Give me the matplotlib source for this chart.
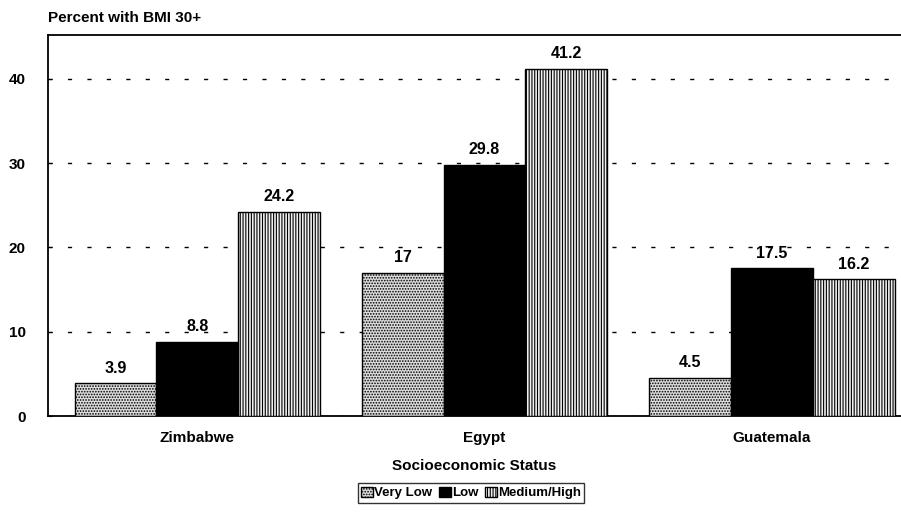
import matplotlib
matplotlib.use("Agg")
import matplotlib.pyplot as plt
import numpy as np

countries = ["Zimbabwe", "Egypt", "Guatemala"]
series_names = ["Very Low", "Low", "Medium/High"]
very_low = [3.9, 17, 4.5]
low = [8.8, 29.8, 17.5]
med_high = [24.2, 41.2, 16.2]
value_labels = [["3.9", "17", "4.5"], ["8.8", "29.8", "17.5"], ["24.2", "41.2", "16.2"]]
yticks = [0, 10, 20, 30, 40]

plt.rcParams['font.family'] = ['Liberation Sans', 'DejaVu Sans']
plt.rcParams['hatch.linewidth'] = 0.8

fig = plt.figure(figsize=(9.01, 5.25), dpi=100)
ax = fig.add_axes([48/901, 1 - 416/525, 1 - 48/901, (416 - 35)/525])

x = np.arange(len(countries))
w = 0.285
styles = [
    dict(facecolor="#dcdcdc", hatch="......", edgecolor="black"),
    dict(facecolor="black", hatch=None, edgecolor="black"),
    dict(facecolor="#f0f0f0", hatch="||||||", edgecolor="black"),
]
all_vals = [very_low, low, med_high]
handles = []
for i, (vals, st) in enumerate(zip(all_vals, styles)):
    bars = ax.bar(x + (i - 1) * w, vals, width=w, linewidth=1.0, zorder=3,
                  label=series_names[i], **st)
    handles.append(bars)
    for xi, v, lab in zip(x + (i - 1) * w, vals, value_labels[i]):
        ax.text(xi, v + 0.9, lab, ha="center", va="bottom", fontsize=11.5,
                fontweight="bold", zorder=4)

ax.set_xlim(-0.52, 2.45)
ax.set_ylim(0, 45.2)
ax.set_yticks(yticks)
ax.set_yticklabels([str(t) for t in yticks], fontsize=11, fontweight="bold")
ax.tick_params(axis="y", length=3, direction="in", pad=16)
ax.set_xticks(x)
ax.set_xticklabels(countries, fontsize=11, fontweight="bold")
ax.tick_params(axis="x", length=0, pad=11)
ax.yaxis.grid(True, linestyle=(0, (3, 11)), color="black", linewidth=1.0, zorder=1)
ax.set_axisbelow(True)
for s in ["left", "top", "bottom"]:
    ax.spines[s].set_linewidth(1.3)
ax.spines["right"].set_visible(False)

ax.set_xlabel("Socioeconomic Status", fontsize=11, fontweight="bold", labelpad=10)
fig.text(48/901, 1 - 18/525, "Percent with BMI 30+", fontsize=11, fontweight="bold",
         ha="left", va="center")

leg = fig.legend(handles=handles, labels=series_names, loc="center",
                 bbox_to_anchor=(471/901, 1 - 493/525), ncol=3, frameon=True,
                 fancybox=False, edgecolor="black", handlelength=0.9, handleheight=0.8,
                 handletextpad=0.1, columnspacing=0.5, borderpad=0.25, borderaxespad=0,
                 prop={"weight": "bold", "size": 9.5})
leg.get_frame().set_linewidth(1.0)

fig.savefig("out.png", dpi=100)
